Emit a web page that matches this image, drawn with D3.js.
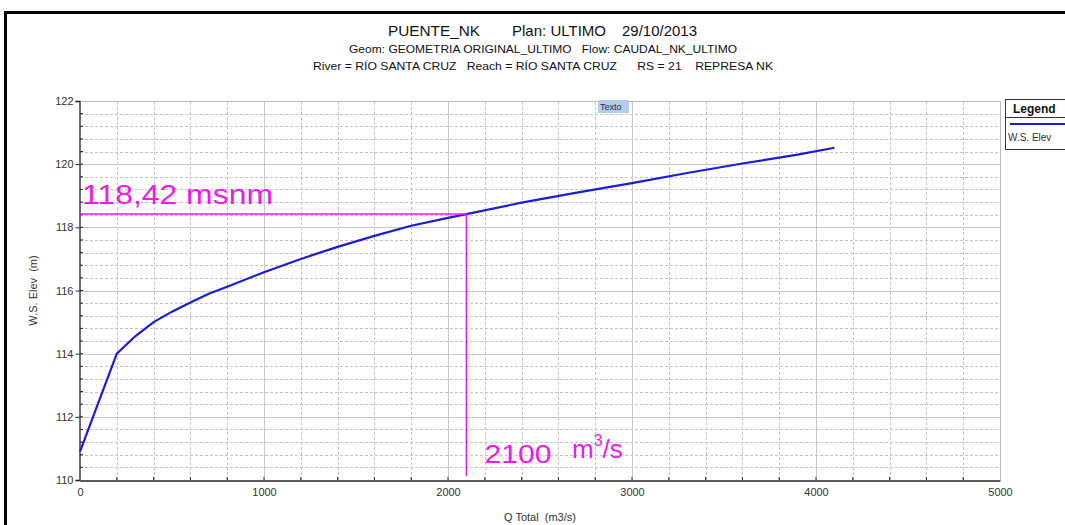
<!DOCTYPE html>
<html>
<head>
<meta charset="utf-8">
<script src="https://cdn.jsdelivr.net/npm/d3@7"></script>
<style>
  html, body { margin: 0; padding: 0; background: #fff; }
  svg { display: block; font-family: Arial, "Liberation Sans", sans-serif; }
</style>
</head>
<body>
<svg id="chart" width="1065" height="525"></svg>
<script>
// Rating curve: total discharge (m3/s) vs water surface elevation (m)
const flowQ = [0, 100, 200, 300, 400, 500, 600, 700, 800, 1000, 1200, 1400, 1600, 1800, 2000, 2100, 2400, 2700, 3000, 3300, 3600, 3900, 4100];
const wsElev = [110.9, 112.45, 114.0, 114.55, 115.0, 115.33, 115.62, 115.9, 116.12, 116.58, 117.0, 117.38, 117.73, 118.05, 118.3, 118.42, 118.78, 119.1, 119.4, 119.72, 120.02, 120.3, 120.52];

const xTicks = [0, 1000, 2000, 3000, 4000, 5000];
const yTicks = [110, 112, 114, 116, 118, 120, 122];

// Reading highlighted on the curve
const markQ = 2100;
const markElev = 118.42;
const markElevLabel = "118,42 msnm";
const markQLabel = "2100";

const titleLines = [
  "Geom: GEOMETRIA ORIGINAL_ULTIMO   Flow: CAUDAL_NK_ULTIMO",
  "River = RÍO SANTA CRUZ   Reach = RÍO SANTA CRUZ      RS = 21    REPRESA NK"
];

const svg = d3.select("#chart");
const x = d3.scaleLinear().domain([0, 5000]).range([80, 1000]);
const y = d3.scaleLinear().domain([110, 122]).range([480, 101]);

// outer frame
svg.append("rect").attr("x", 5.5).attr("y", 12.5).attr("width", 1080).attr("height", 540)
  .attr("fill", "#fff").attr("stroke", "#000").attr("stroke-width", 3);

// titles
const t1 = svg.append("g").attr("font-size", 15).attr("fill", "#111");
t1.append("text").attr("x", 388).attr("y", 36).attr("textLength", 92).attr("lengthAdjust", "spacingAndGlyphs").text("PUENTE_NK");
t1.append("text").attr("x", 512).attr("y", 36).attr("textLength", 94).attr("lengthAdjust", "spacingAndGlyphs").text("Plan: ULTIMO");
t1.append("text").attr("x", 622).attr("y", 36).attr("textLength", 75).attr("lengthAdjust", "spacingAndGlyphs").text("29/10/2013");
svg.append("text").attr("x", 349).attr("y", 53).attr("font-size", 11).attr("fill", "#111")
  .style("white-space", "pre").attr("textLength", 388).attr("lengthAdjust", "spacingAndGlyphs").text(titleLines[0]);
svg.append("text").attr("x", 313).attr("y", 70).attr("font-size", 11).attr("fill", "#111")
  .style("white-space", "pre").attr("textLength", 460).attr("lengthAdjust", "spacingAndGlyphs").text(titleLines[1]);

// grid
const grid = svg.append("g");
d3.range(110.4, 122, 0.4).forEach(v => {
  const major = Math.abs(v - Math.round(v)) < 1e-6 && Math.round(v) % 2 === 0;
  grid.append("line").attr("x1", x(0)).attr("x2", x(5000)).attr("y1", Math.round(y(v)) + 0.5).attr("y2", Math.round(y(v)) + 0.5)
    .attr("stroke", major ? "#c8c8c8" : "#c4c4c4").attr("stroke-width", 1)
    .attr("stroke-dasharray", major ? null : "3,2");
});
d3.range(200, 5000, 200).forEach(v => {
  const major = v % 1000 === 0;
  grid.append("line").attr("y1", y(110)).attr("y2", y(122)).attr("x1", Math.round(x(v)) + 0.5).attr("x2", Math.round(x(v)) + 0.5)
    .attr("stroke", major ? "#c8c8c8" : "#c4c4c4").attr("stroke-width", 1)
    .attr("stroke-dasharray", major ? null : "3,2");
});
// plot border (top / right)
svg.append("path").attr("d", `M${x(0)},${y(122) + 0.5}H${x(5000) + 0.5}V${y(110)}`)
  .attr("fill", "none").attr("stroke", "#bbb");

// axes
const xAxis = svg.append("g").attr("transform", `translate(0,${y(110) + 0.5})`)
  .call(d3.axisBottom(x).tickValues(xTicks).tickFormat(d3.format("d")).tickSize(0).tickPadding(8));
const yAxis = svg.append("g").attr("transform", `translate(${x(0) - 0.5},0)`)
  .call(d3.axisLeft(y).tickValues(yTicks).tickFormat(d3.format("d")).tickSize(4).tickPadding(2));
[xAxis, yAxis].forEach(g => {
  g.select(".domain").attr("stroke", "#222").attr("stroke-width", 1.3);
  g.selectAll("text").attr("font-size", 11).attr("fill", "#333").attr("font-family", "Arial, sans-serif");
  g.selectAll(".tick line").attr("stroke", "#222");
});
// minor ticks
const minor = svg.append("g").attr("stroke", "#222");
d3.range(110.4, 122, 0.4).forEach(v => {
  minor.append("line").attr("x1", x(0)).attr("x2", x(0) + 3).attr("y1", y(v)).attr("y2", y(v));
});
d3.range(200, 5000, 200).forEach(v => {
  minor.append("line").attr("y1", y(110)).attr("y2", y(110) - 3).attr("x1", x(v)).attr("x2", x(v));
});

// axis titles
svg.append("text").attr("transform", `translate(37,${(y(110) + y(122)) / 2}) rotate(-90)`)
  .attr("text-anchor", "middle").attr("font-size", 11).attr("fill", "#333")
  .style("white-space", "pre").text("W.S. Elev  (m)");
svg.append("text").attr("x", (x(0) + x(5000)) / 2).attr("y", 521).attr("text-anchor", "middle")
  .attr("font-size", 11).attr("fill", "#333").style("white-space", "pre").text("Q Total  (m3/s)");

// "Texto" tag
svg.append("rect").attr("x", 598).attr("y", 100).attr("width", 31).attr("height", 13).attr("fill", "#b4cdee");
svg.append("text").attr("x", 600).attr("y", 110).attr("font-size", 9).attr("fill", "#1a2a50").text("Texto");

// rating curve
const pts = flowQ.map((q, i) => [q, wsElev[i]]);
svg.append("path").datum(pts)
  .attr("d", d3.line().x(d => x(d[0])).y(d => y(d[1])))
  .attr("fill", "none").attr("stroke", "#1c1cd8").attr("stroke-width", 2.2);

// highlighted reading
const magenta = "#ea1aea";
svg.append("line").attr("x1", x(0)).attr("x2", x(markQ)).attr("y1", y(markElev)).attr("y2", y(markElev))
  .attr("stroke", magenta).attr("stroke-width", 1.5);
svg.append("line").attr("x1", x(markQ)).attr("x2", x(markQ)).attr("y1", y(markElev)).attr("y2", y(110) - 4)
  .attr("stroke", magenta).attr("stroke-width", 1.5);
svg.append("text").attr("x", x(0) + 2).attr("y", y(markElev) - 10).attr("font-size", 27).attr("fill", magenta)
  .attr("textLength", 191).attr("lengthAdjust", "spacingAndGlyphs").text(markElevLabel);
svg.append("text").attr("x", x(markQ) + 18).attr("y", 463).attr("font-size", 25).attr("fill", magenta)
  .attr("textLength", 67).attr("lengthAdjust", "spacingAndGlyphs").text(markQLabel);
const unit = svg.append("text").attr("x", 572).attr("y", 458).attr("font-size", 26).attr("fill", magenta);
unit.append("tspan").text("m");
unit.append("tspan").attr("font-size", 16).attr("dy", -12).text("3");
unit.append("tspan").attr("dy", 12).text("/s");

// legend
const lg = svg.append("g");
lg.append("rect").attr("x", 1005.5).attr("y", 99.5).attr("width", 80).attr("height", 50)
  .attr("fill", "#fff").attr("stroke", "#333");
lg.append("line").attr("x1", 1005.5).attr("x2", 1090).attr("y1", 117.5).attr("y2", 117.5).attr("stroke", "#333");
lg.append("text").attr("x", 1013).attr("y", 113).attr("font-size", 12).attr("font-weight", "bold").attr("fill", "#111").text("Legend");
lg.append("line").attr("x1", 1010).attr("x2", 1090).attr("y1", 124).attr("y2", 124).attr("stroke", "#1c1cd8").attr("stroke-width", 2.2);
lg.append("text").attr("x", 1008).attr("y", 141).attr("font-size", 10).attr("fill", "#333").text("W.S. Elev");
</script>
</body>
</html>
